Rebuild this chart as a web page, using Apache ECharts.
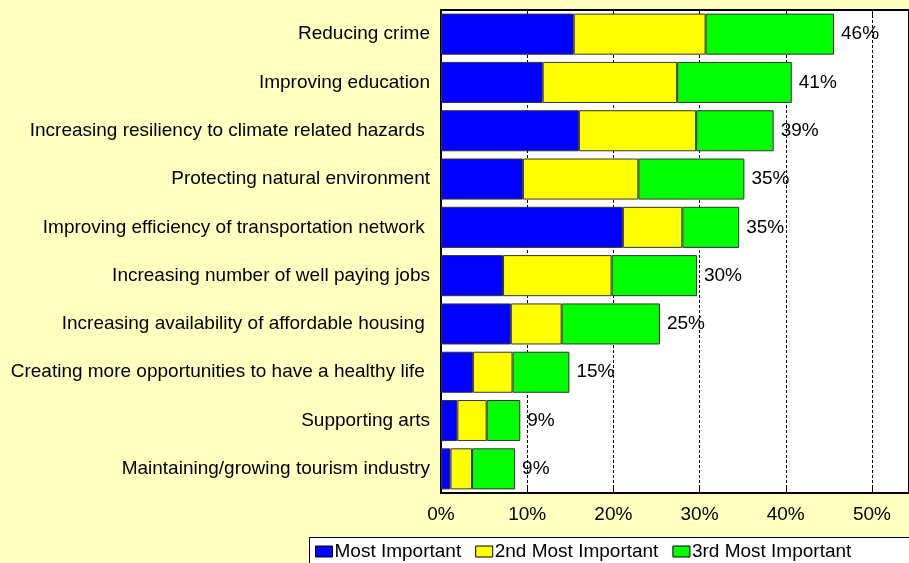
<!DOCTYPE html>
<html>
<head>
<meta charset="utf-8">
<script src="https://cdn.jsdelivr.net/npm/echarts@6/dist/echarts.min.js"></script>
<style>
  html, body { margin: 0; padding: 0; background: #FFFFBF; }
  #chart { width: 909px; height: 563px; }
</style>
</head>
<body>
<div id="chart"></div>
<script>
const categories = [
    'Reducing crime',
    'Improving education',
    'Increasing resiliency to climate related hazards ',
    'Protecting natural environment',
    'Improving efficiency of transportation network ',
    'Increasing number of well paying jobs',
    'Increasing availability of affordable housing ',
    'Creating more opportunities to have a healthy life ',
    'Supporting arts',
    'Maintaining/growing tourism industry'
];

// percent values
const mostImportant = [15.4, 11.8, 16.0, 9.5, 21.1, 7.2, 8.1, 3.7, 1.9, 1.1];
const secondImportant = [15.3, 15.6, 13.6, 13.4, 6.9, 12.6, 5.9, 4.6, 3.4, 2.5];
const thirdImportant = [14.9, 13.3, 9.0, 12.3, 6.6, 9.9, 11.4, 6.6, 3.9, 5.0];
const totals = ['46%', '41%', '39%', '35%', '35%', '30%', '25%', '15%', '9%', '9%'];

const seriesNames = ['Most Important', '2nd Most Important', '3rd Most Important'];
const colors = ['#0000FF', '#FFFF00', '#00FF00'];

const FONT = 'Liberation Sans, Arial, sans-serif';
const FS = 19;

var myChart = echarts.init(document.getElementById('chart'));

const pctLabel = (v) => (Math.abs(v % 10) < 1e-6 ? v + '%' : '');

var option = {
    backgroundColor: '#FFFFBF',
    animation: false,
    textStyle: { fontFamily: FONT },
    // legend frame, runs off the right and bottom edge like the original
    graphic: [{
        type: 'rect',
        left: 309,
        top: 537,
        z: -1,
        shape: { width: 700, height: 60 },
        style: { fill: '#FFFFFF', stroke: '#000000', lineWidth: 1 }
    }],
    grid: {
        left: 441,
        top: 10,
        right: -2,
        bottom: 70,
        show: true,
        backgroundColor: '#FFFFFF',
        borderColor: '#000000',
        borderWidth: 2
    },
    legend: {
        data: seriesNames,
        left: 309,
        top: 537,
        orient: 'horizontal',
        icon: 'rect',
        itemWidth: 17,
        itemHeight: 11,
        itemGap: 14,
        padding: [5, 5, 5, 6],
        textStyle: {
            fontFamily: FONT,
            fontSize: FS,
            color: '#000000',
            padding: [0, 0, 0, -3]
        },
        itemStyle: { borderColor: '#000000', borderWidth: 1 }
    },
    xAxis: [{
        type: 'value',
        min: 0,
        max: 54.3,
        interval: 10,
        axisLine: { show: false },
        axisTick: { show: true, inside: true, length: 5, lineStyle: { color: '#000000' } },
        axisLabel: {
            formatter: pctLabel,
            fontFamily: FONT,
            fontSize: FS,
            color: '#000000',
            margin: 12,
            showMaxLabel: false
        },
        splitLine: {
            show: true,
            lineStyle: { color: '#000000', type: [3, 2], width: 1 }
        }
    }, {
        type: 'value',
        position: 'top',
        min: 0,
        max: 54.3,
        interval: 10,
        axisLine: { show: false },
        axisTick: { show: true, inside: true, length: 5, lineStyle: { color: '#000000' } },
        axisLabel: { show: false },
        splitLine: { show: false }
    }],
    yAxis: {
        type: 'category',
        data: categories,
        inverse: true,
        axisLine: { show: true, lineStyle: { color: '#000000', width: 2 } },
        axisTick: { show: false },
        axisLabel: {
            fontFamily: FONT,
            fontSize: FS,
            color: '#000000',
            margin: 11
        }
    },
    series: [mostImportant, secondImportant, thirdImportant].map((arr, i) => ({
        name: seriesNames[i],
        type: 'bar',
        stack: 'total',
        data: arr,
        barCategoryGap: '15%',
        itemStyle: {
            color: colors[i],
            borderColor: '#333333',
            borderWidth: 1
        },
        label: i === 2 ? {
            show: true,
            position: 'right',
            distance: 7,
            formatter: (p) => totals[p.dataIndex],
            fontFamily: FONT,
            fontSize: FS,
            color: '#000000'
        } : { show: false },
        emphasis: { disabled: true }
    }))
};

myChart.setOption(option);
</script>
</body>
</html>
